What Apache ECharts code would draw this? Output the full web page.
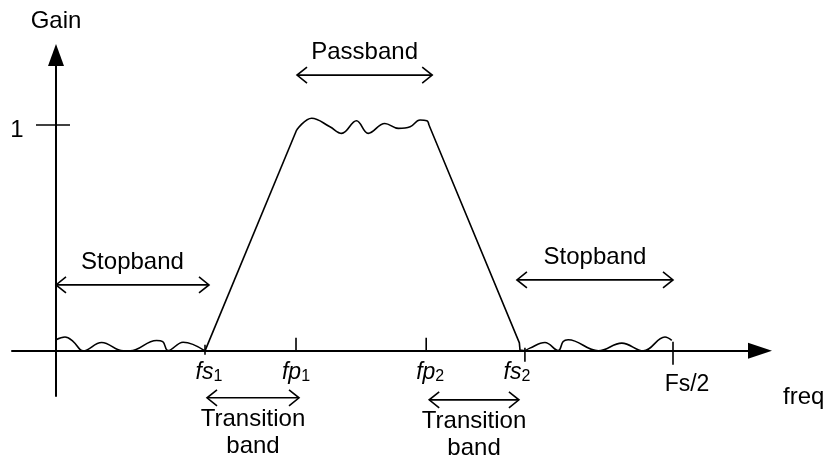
<!DOCTYPE html>
<html>
<head>
<meta charset="utf-8">
<script src="https://cdn.jsdelivr.net/npm/echarts@6/dist/echarts.min.js"></script>
<style>
html, body { margin: 0; padding: 0; background: #fff; }
#chart { width: 827px; height: 468px; }
</style>
</head>
<body>
<div id="chart"></div>
<script>
// frequency in units of Fs/2, gain normalised so the passband is 1
var fs1 = 0.2415, fp1 = 0.389, fp2 = 0.6, fs2 = 0.76, fHalf = 1;

var freqTicks = [fs1, fp1, fp2, fs2, fHalf];
var freqTickLabels = ['{i|fs}{s|1}', '{i|fp}{s|1}', '{i|fp}{s|2}', '{i|fs}{s|2}', '{r|Fs/2}'];
var gainTicks = [1];
var gainTickLabels = ['1'];

// response curve
var stopLeft = [[0, 0.049], [0.0146, 0.061], [0.028, 0.041], [0.044, 0], [0.074, 0.037], [0.109, 0],
    [0.12, 0], [0.163, 0.046], [0.173, 0.041], [0.1815, 0.001], [0.206, 0.038], [0.2415, 0]];
var riseEdge = [[0.2415, 0], [0.39, 0.978]];
var passRipple = [[0.39, 0.978], [0.4144, 1.03], [0.444, 0.992], [0.463, 0.963], [0.487, 1.019],
    [0.506, 0.963], [0.533, 1.007], [0.555, 0.985], [0.574, 0.992], [0.59, 1.022], [0.601, 1.019], [0.6045, 1.0]];
var fallEdge = [[0.6045, 1.0], [0.751, 0.035], [0.752, 0.004], [0.76, 0]];
var stopRight = [[0.76, 0], [0.768, 0.012], [0.7925, 0.037], [0.814, 0.001], [0.822, 0.041], [0.83, 0.049],
    [0.879, 0], [0.917, 0.034], [0.952, 0], [0.987, 0.061], [0.998, 0.046]];

var bandNames = ['Stopband', 'Transition\nband', 'Passband', 'Transition\nband', 'Stopband'];
var bandFrom = [0, fs1, fp1, fp2, fs2];
var bandTo = [fs1, fp1, fp2, fs2, fHalf];

// layout only (gain level of each band arrow, px nudges for arrow ends, ticks and labels)
var bandArrowGain = [0.292, -0.208, 1.221, -0.217, 0.314];
var bandNudge = [[0, 4], [2, 3], [1, 6], [3, -6], [-8, 0]];
var tickSpan = [[-6, 4], [-13, 0], [-13, 1], [-3, 11], [-9, 14]];
var labelShift = [[4, 22], [0, 22], [4, 22], [-8, 22], [14, 34]];

var FONT = '"Liberation Sans", Arial, sans-serif';
var ink = '#000';

var myChart = echarts.init(document.getElementById('chart'));

function curve(data, smooth) {
    return {
        type: 'line',
        data: data,
        smooth: smooth,
        symbol: 'none',
        silent: true,
        lineStyle: { color: ink, width: 1.6 }
    };
}

function renderFreqTick(params, api) {
    var i = params.dataIndex;
    var p = api.coord([api.value(0), 0]);
    return {
        type: 'group',
        children: [{
            type: 'line',
            shape: { x1: p[0], y1: p[1] + tickSpan[i][0], x2: p[0], y2: p[1] + tickSpan[i][1] },
            style: { stroke: ink, lineWidth: 1.6 }
        }, {
            type: 'text',
            x: p[0] + labelShift[i][0],
            y: p[1] + labelShift[i][1],
            style: {
                text: freqTickLabels[i],
                align: 'center',
                verticalAlign: 'middle',
                fill: ink,
                rich: {
                    i: { fontFamily: FONT, fontSize: 23, fontStyle: 'italic', lineHeight: 24, fill: ink },
                    s: { fontFamily: FONT, fontSize: 16, lineHeight: 14, verticalAlign: 'bottom', fill: ink },
                    r: { fontFamily: FONT, fontSize: 23, lineHeight: 24, fill: ink }
                }
            }
        }]
    };
}

function renderGainTick(params, api) {
    var i = params.dataIndex;
    var p = api.coord([0, api.value(1)]);
    return {
        type: 'group',
        children: [{
            type: 'line',
            shape: { x1: p[0] - 20, y1: p[1], x2: p[0] + 14, y2: p[1] },
            style: { stroke: ink, lineWidth: 1.6 }
        }, {
            type: 'text',
            x: p[0] - 39,
            y: p[1] + 5,
            style: { text: gainTickLabels[i], align: 'center', verticalAlign: 'middle', font: '24px ' + FONT, fill: ink }
        }]
    };
}

function renderBand(params, api) {
    var i = params.dataIndex;
    var a = api.coord([api.value(0), api.value(2)]);
    var b = api.coord([api.value(1), api.value(2)]);
    var x1 = a[0] + bandNudge[i][0], x2 = b[0] + bandNudge[i][1];
    var y = a[1], h = 10, w = 8;
    var below = bandNames[i].indexOf('\n') >= 0;
    var st = { stroke: ink, fill: null, lineWidth: 1.6 };
    return {
        type: 'group',
        children: [
            { type: 'line', shape: { x1: x1, y1: y, x2: x2, y2: y }, style: st },
            { type: 'polyline', shape: { points: [[x1 + h, y - w], [x1, y], [x1 + h, y + w]] }, style: st },
            { type: 'polyline', shape: { points: [[x2 - h, y - w], [x2, y], [x2 - h, y + w]] }, style: st },
            {
                type: 'text',
                x: (x1 + x2) / 2,
                y: below ? y + 35.5 : y - 23,
                style: {
                    text: bandNames[i], align: 'center', verticalAlign: 'middle',
                    font: '24px ' + FONT, lineHeight: 27, fill: ink
                }
            }
        ]
    };
}

var option = {
    animation: false,
    backgroundColor: '#fff',
    grid: { left: 12, right: 67, top: 55, bottom: 72, containLabel: false, outerBoundsMode: 'none' },
    xAxis: {
        type: 'value',
        min: -0.0713,
        max: 1.141,
        name: 'freq',
        nameLocation: 'end',
        nameGap: 23,
        nameTextStyle: { color: ink, fontSize: 24, fontFamily: FONT, verticalAlign: 'top', padding: [35, 0, 0, 0] },
        axisLine: {
            onZero: true,
            symbol: ['none', 'triangle'],
            symbolSize: [16, 24],
            lineStyle: { color: ink, width: 2 }
        },
        axisTick: { show: false },
        axisLabel: { show: false },
        splitLine: { show: false }
    },
    yAxis: {
        type: 'value',
        min: -0.2,
        max: 1.31,
        name: 'Gain',
        nameLocation: 'end',
        nameGap: 22,
        nameTextStyle: { color: ink, fontSize: 24, fontFamily: FONT },
        axisLine: {
            show: true,
            onZero: true,
            symbol: ['none', 'triangle'],
            symbolSize: [16, 22],
            lineStyle: { color: ink, width: 2 }
        },
        axisTick: { show: false },
        axisLabel: { show: false },
        splitLine: { show: false }
    },
    series: [
        curve(stopLeft, 0.4),
        curve(riseEdge, false),
        curve(passRipple, 0.4),
        curve(fallEdge, false),
        curve(stopRight, 0.4),
        {
            type: 'custom',
            renderItem: renderFreqTick,
            data: freqTicks.map(function (v) { return [v, 0]; }),
            encode: { x: 0, y: 1 },
            silent: true
        },
        {
            type: 'custom',
            renderItem: renderGainTick,
            data: gainTicks.map(function (v) { return [0, v]; }),
            encode: { x: 0, y: 1 },
            silent: true
        },
        {
            type: 'custom',
            renderItem: renderBand,
            data: bandNames.map(function (n, i) { return [bandFrom[i], bandTo[i], bandArrowGain[i]]; }),
            encode: { x: [0, 1], y: 2 },
            silent: true
        }
    ]
};

myChart.setOption(option);
window.addEventListener("resize", function () {
    myChart.resize();
});
</script>
</body>
</html>
